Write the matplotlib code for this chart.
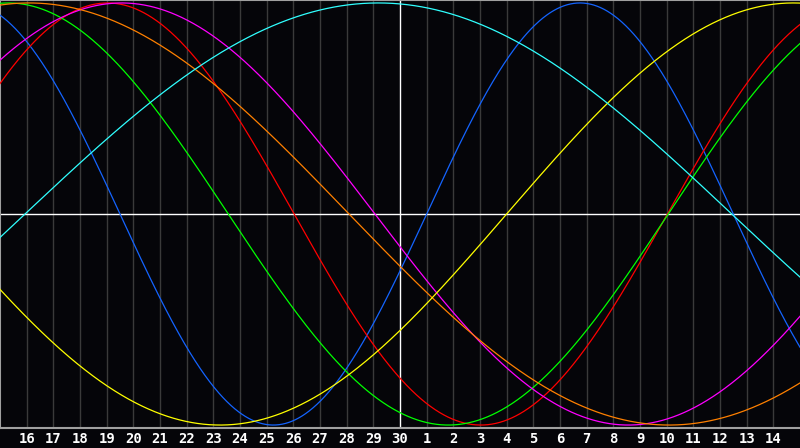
import numpy as np
import matplotlib
matplotlib.use("Agg")
import matplotlib.pyplot as plt

# day labels along the bottom, chart centre is "30"
day_labels = [str(d) for d in range(16, 31)] + [str(d) for d in range(1, 15)]

# biorhythm cycles
cycle_names = ["physical", "emotional", "intellectual", "intuitive",
               "awareness", "aesthetic", "spiritual"]
cycle_periods = [23, 28, 33, 38, 48, 43, 53]
# chart day (0 = left edge) where each cycle crosses zero going up
cycle_zero_up = [16.0, 25.03, 25.06, 33.06, 37.09, 19.0, 0.94]
cycle_colors = ["#1464ff", "#ff0000", "#00ff00", "#ff00ff",
                "#ff8000", "#ffff00", "#30ffff"]

N_DAYS = 30
BG = "#050509"

fig = plt.figure(figsize=(8, 4.48), dpi=100, facecolor=BG)
ax = fig.add_axes([0, 20 / 448, 1, 428 / 448])
ax.set_facecolor(BG)

t = np.linspace(0, N_DAYS, 1200)

# day grid
for i in range(1, N_DAYS):
    if i == N_DAYS // 2:
        continue
    ax.axvline(i, color="#3a3a3a", lw=1.0, zorder=1)

for name, period, z, col in zip(cycle_names, cycle_periods, cycle_zero_up, cycle_colors):
    ax.plot(t, np.sin(2 * np.pi * (t - z) / period), color=col, lw=0.9, zorder=3)

# crosshair
ax.axvline(N_DAYS / 2, color="white", lw=1.0, zorder=2)
ax.axhline(0, color="white", lw=1.0, zorder=2)

ax.set_xlim(0, N_DAYS)
ax.set_ylim(-1.014, 1.014)

ax.spines["right"].set_visible(False)
for side in ["left", "top", "bottom"]:
    ax.spines[side].set_color("#a0a0a0")
    ax.spines[side].set_linewidth(1.5)

ax.set_yticks([])
ax.set_xticks(range(1, N_DAYS))
ax.set_xticklabels(day_labels, family="DejaVu Sans Mono", fontweight="bold",
                   fontsize=10, color="white")
ax.tick_params(axis="x", length=0, pad=3)

fig.savefig("out.png", dpi=100, facecolor=BG)
